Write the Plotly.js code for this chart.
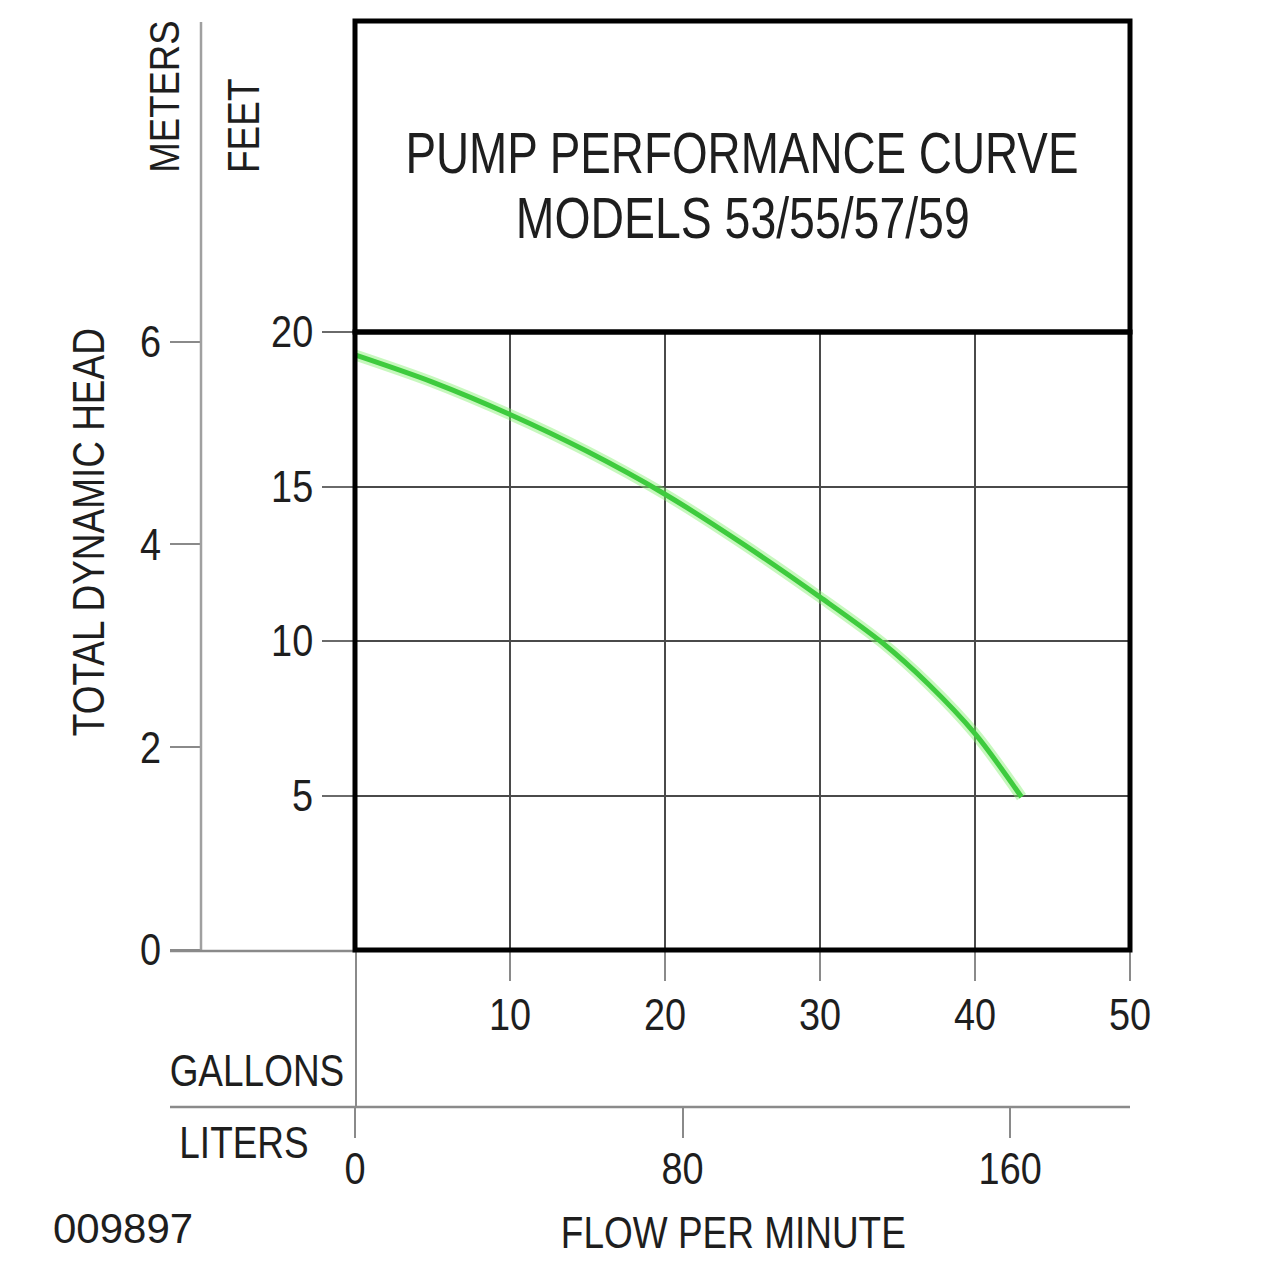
<!DOCTYPE html>
<html>
<head>
<meta charset="utf-8">
<script src="https://cdn.plot.ly/plotly-3.0.1.min.js"></script>
<style>
  html, body { margin: 0; padding: 0; background: #fff; }
  #chart { width: 1280px; height: 1280px; }
</style>
</head>
<body>
<div id="chart"></div>
<script>
// ---- data ----
const flowGallons = [0, 5, 10, 15, 20, 25, 30, 34, 37, 40, 43];
const headFeet    = [19.26, 18.38, 17.33, 16.13, 14.75, 13.15, 11.42, 9.95, 8.6, 7.0, 4.95];
const gallonTicks = [10, 20, 30, 40, 50];
const feetTicks   = [5, 10, 15, 20];
const meterTicks  = [0, 2, 4, 6];
const literTicks  = [0, 80, 160];
const titleLine1 = "PUMP PERFORMANCE CURVE";
const titleLine2 = "MODELS 53/55/57/59";
const FT_PER_M = 3.28084;
const L_PER_GAL = 3.78541;

// ---- layout helpers (pixel -> paper) ----
const W = 1280, H = 1280;
const px = v => v / W;
const py = v => 1 - v / H;
const FONT = "'Liberation Sans', Arial, sans-serif";
const TXT = "#1e1e1e";

const xDom = [px(355), px(1130)];
const yDom = [py(950), py(332)];
const gMax = 50, fMax = 20;

const traces = [
  { x: flowGallons, y: headFeet, xaxis: "x", yaxis: "y", mode: "lines",
    line: { color: "rgba(130,240,110,0.45)", width: 11, shape: "spline", smoothing: 0.9 },
    hoverinfo: "skip", showlegend: false },
  { x: flowGallons, y: headFeet, xaxis: "x", yaxis: "y", mode: "lines",
    line: { color: "#3ecb3e", width: 5, shape: "spline", smoothing: 0.9 },
    showlegend: false },
  // helper traces so the secondary axes are drawn
  { x: [0], y: [0], xaxis: "x2", yaxis: "y", mode: "markers", marker: { opacity: 0 },
    hoverinfo: "skip", showlegend: false },
  { x: [0], y: [0], xaxis: "x", yaxis: "y2", mode: "markers", marker: { opacity: 0 },
    hoverinfo: "skip", showlegend: false }
];

const tickFont = { family: FONT, size: 44, color: TXT };

const layout = {
  width: W, height: H,
  margin: { l: 0, r: 0, t: 0, b: 0, pad: 0 },
  paper_bgcolor: "#fff", plot_bgcolor: "rgba(0,0,0,0)",
  showlegend: false,
  xaxis: {
    domain: xDom, range: [0, gMax], anchor: "y",
    tickmode: "array", tickvals: gallonTicks, ticktext: gallonTicks.map(String),
    ticks: "outside", ticklen: 30, tickwidth: 2, tickcolor: "#8a8a8a",
    showgrid: true, gridcolor: "#4a4a4a", gridwidth: 2,
    zeroline: false, showline: false, tickfont: tickFont, fixedrange: true
  },
  yaxis: {
    domain: yDom, range: [0, fMax], anchor: "x",
    tickmode: "array", tickvals: feetTicks, ticktext: feetTicks.map(String),
    ticks: "outside", ticklen: 32, tickwidth: 2, tickcolor: "#6a6a6a",
    showgrid: true, gridcolor: "#4a4a4a", gridwidth: 2,
    zeroline: false, showline: false, tickfont: tickFont, fixedrange: true
  },
  yaxis2: {
    domain: yDom, range: [0, fMax / FT_PER_M], overlaying: "y", anchor: "free",
    position: px(200), side: "left",
    tickmode: "array", tickvals: meterTicks, ticktext: meterTicks.map(String),
    ticks: "outside", ticklen: 30, tickwidth: 2, tickcolor: "#8a8a8a",
    showgrid: false, zeroline: false, showline: false, tickfont: tickFont, fixedrange: true
  },
  xaxis2: {
    domain: xDom, range: [0, gMax * L_PER_GAL], overlaying: "x", anchor: "free",
    position: py(1107), side: "bottom",
    tickmode: "array", tickvals: literTicks, ticktext: literTicks.map(String),
    ticks: "outside", ticklen: 30, tickwidth: 2, tickcolor: "#8a8a8a",
    showgrid: false, zeroline: false, showline: false, tickfont: tickFont, fixedrange: true
  },
  shapes: [
    { type: "line", xref: "paper", yref: "paper", x0: px(201), x1: px(201), y0: py(22), y1: py(951),
      line: { color: "#a0a0a0", width: 2.5 } },
    { type: "line", xref: "paper", yref: "paper", x0: px(170), x1: px(356), y0: py(951), y1: py(951),
      line: { color: "#8a8a8a", width: 2.5 } },
    { type: "line", xref: "paper", yref: "paper", x0: px(170), x1: px(1130), y0: py(1107), y1: py(1107),
      line: { color: "#8a8a8a", width: 2.5 } },
    { type: "line", xref: "paper", yref: "paper", x0: px(356), x1: px(356), y0: py(951), y1: py(1107),
      line: { color: "#8a8a8a", width: 2 } },
    { type: "rect", xref: "paper", yref: "paper", x0: xDom[0], x1: xDom[1], y0: yDom[1], y1: py(21),
      line: { color: "#000", width: 5 }, fillcolor: "rgba(0,0,0,0)" },
    { type: "rect", xref: "paper", yref: "paper", x0: xDom[0], x1: xDom[1], y0: yDom[0], y1: yDom[1],
      line: { color: "#000", width: 5 }, fillcolor: "rgba(0,0,0,0)" }
  ],
  annotations: [
    { text: titleLine1, xref: "paper", yref: "paper", x: px(742), y: py(152), xanchor: "center", yanchor: "middle",
      showarrow: false, font: { family: FONT, size: 58, color: TXT } },
    { text: titleLine2, xref: "paper", yref: "paper", x: px(742), y: py(217), xanchor: "center", yanchor: "middle",
      showarrow: false, font: { family: FONT, size: 58, color: TXT } },
    { text: "METERS", xref: "paper", yref: "paper", x: px(164), y: py(97), xanchor: "center", yanchor: "middle",
      textangle: -90, showarrow: false, font: { family: FONT, size: 42, color: TXT } },
    { text: "FEET", xref: "paper", yref: "paper", x: px(244), y: py(126), xanchor: "center", yanchor: "middle",
      textangle: -90, showarrow: false, font: { family: FONT, size: 44, color: TXT } },
    { text: "TOTAL DYNAMIC HEAD", xref: "paper", yref: "paper", x: px(88), y: py(532), xanchor: "center", yanchor: "middle",
      textangle: -90, showarrow: false, font: { family: FONT, size: 44, color: TXT } },
    { text: "GALLONS", xref: "paper", yref: "paper", x: px(257), y: py(1070), xanchor: "center", yanchor: "middle",
      showarrow: false, font: { family: FONT, size: 44, color: TXT } },
    { text: "LITERS", xref: "paper", yref: "paper", x: px(244), y: py(1142), xanchor: "center", yanchor: "middle",
      showarrow: false, font: { family: FONT, size: 44, color: TXT } },
    { text: "009897", xref: "paper", yref: "paper", x: px(123), y: py(1228), xanchor: "center", yanchor: "middle",
      showarrow: false, font: { family: FONT, size: 42, color: TXT } },
    { text: "FLOW PER MINUTE", xref: "paper", yref: "paper", x: px(733), y: py(1232), xanchor: "center", yanchor: "middle",
      showarrow: false, font: { family: FONT, size: 44, color: TXT } }
  ]
};

// horizontal condensing of text (the reference uses a narrow sans face)
const squeezeRatio = {
  [titleLine1]: 0.79, [titleLine2]: 0.80, "METERS": 0.87, "009897": 1.0
};
function condense(gd) {
  gd.querySelectorAll(".annotation-text").forEach(t => {
    const txt = t.textContent;
    const r = (txt in squeezeRatio) ? squeezeRatio[txt] : 0.84;
    if (r >= 1) return;
    const L = t.getComputedTextLength();
    t.setAttribute("textLength", (L * r).toFixed(1));
    t.setAttribute("lengthAdjust", "spacingAndGlyphs");
  });
  gd.querySelectorAll(".xtick text, .ytick text, .x2tick text, .y2tick text").forEach(t => {
    const L = t.getComputedTextLength();
    t.setAttribute("textLength", (L * 0.86).toFixed(1));
    t.setAttribute("lengthAdjust", "spacingAndGlyphs");
  });
  gd.querySelectorAll(".x2tick text").forEach(t => {
    const tr = t.getAttribute("transform") || "";
    t.setAttribute("transform", tr + " translate(0,-7)");
  });
  gd.querySelectorAll(".xtick text").forEach(t => {
    const tr = t.getAttribute("transform") || "";
    t.setAttribute("transform", tr + " translate(0,-4)");
  });
}

Plotly.newPlot("chart", traces, layout, { staticPlot: true, displayModeBar: false })
  .then(gd => condense(gd));
</script>
</body>
</html>
